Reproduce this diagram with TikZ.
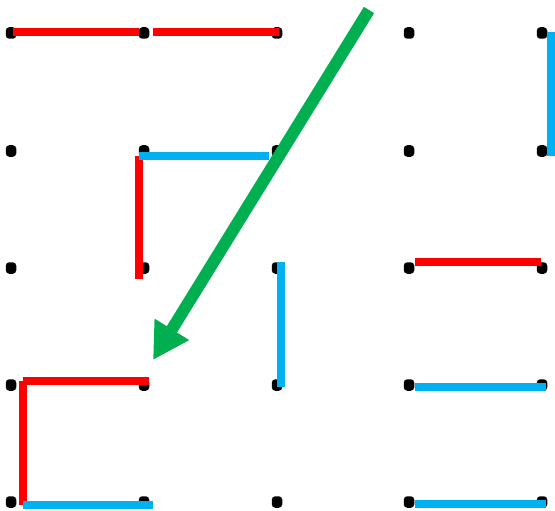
\documentclass[tikz,border=0pt]{standalone}
\usetikzlibrary{arrows.meta,shapes.geometric}
\definecolor{myred}{HTML}{FF0000}
\definecolor{myblue}{HTML}{00B0F0}
\definecolor{mygreen}{HTML}{00B050}
\begin{document}
\begin{tikzpicture}[x=1pt,y=-1pt,
  gdot/.style={rectangle,rounded corners=3.5pt,fill=black,inner sep=0pt,minimum width=10.5pt,minimum height=11.5pt},
  redseg/.style={draw=myred,line width=8pt},
  blueseg/.style={draw=myblue,line width=8pt},
  bigarrow/.style={draw=mygreen,line width=12pt,-{Triangle[length=36pt,width=38pt]}}]
\useasboundingbox (0,0) rectangle (555,511);
\foreach \c/\x in {1/11,2/144,3/277,4/409,5/542}{
  \foreach \r/\y in {1/33,2/151,3/268,4/385,5/502}{
    \node[gdot] (d\c\r) at (\x,\y) {};
  }
}
% red segments
\draw[redseg] (13,32) -- (139,32);
\draw[redseg] (153,32) -- (279,32);
\draw[redseg] (139,156) -- (139,279);
\draw[redseg] (23,505) -- (23,381);
\draw[redseg] (23,381) -- (149,381);
\draw[redseg] (415,262) -- (541,262);
% blue segments
\draw[blueseg] (139,156) -- (269,156);
\draw[blueseg] (281,262) -- (281,387);
\draw[blueseg] (23,505) -- (153,505);
\draw[blueseg] (551,32) -- (551,156);
\draw[blueseg] (415,387) -- (546,387);
\draw[blueseg] (415,504) -- (546,504);
% green arrow
\coordinate (gstart) at (369,10);
\coordinate (gend) at (153,360);
\draw[bigarrow] (gstart) -- (gend);
\end{tikzpicture}
\end{document}
